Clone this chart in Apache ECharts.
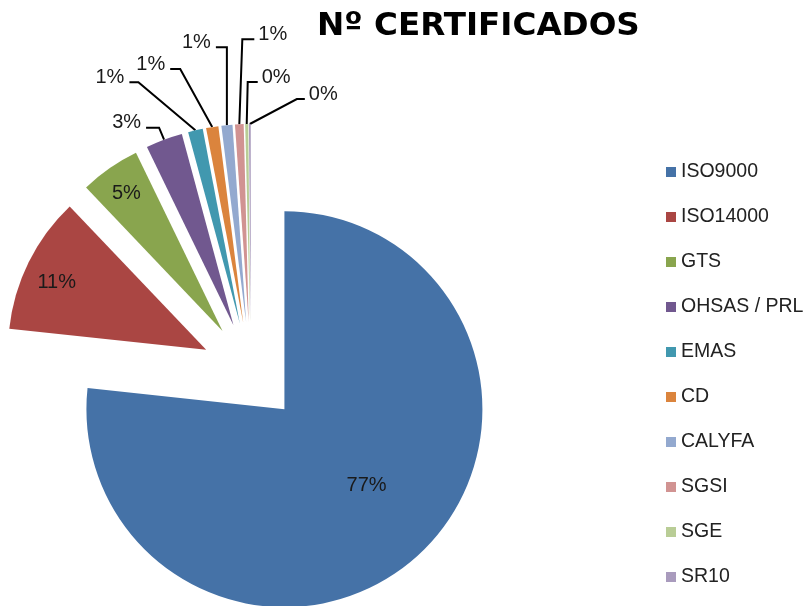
<!DOCTYPE html>
<html>
<head>
<meta charset="utf-8">
<title>Nº CERTIFICADOS</title>
<script src="https://cdn.jsdelivr.net/npm/echarts@6/dist/echarts.min.js"></script>
<style>
  html, body { margin: 0; padding: 0; background: #fff; }
  #chart { width: 806px; height: 606px; }
</style>
</head>
<body>
<div id="chart"></div>
<script>
// Nº certificados por norma
const categories = ['ISO9000', 'ISO14000', 'GTS', 'OHSAS / PRL', 'EMAS', 'CD', 'CALYFA', 'SGSI', 'SGE', 'SR10'];
const certificados = [1534, 224, 98, 60, 24, 20, 18, 14, 5, 3];
const colors = ['#4572A7', '#AA4643', '#89A54E', '#71588F', '#4198AF', '#DB843D', '#93A9CF', '#D19392', '#B9CD96', '#A99BBD'];

const FONT = 'Liberation Sans';

// labels drawn inside the slice, with a small nudge (px)
const insideNudge = { 'ISO9000': [14, 0], 'ISO14000': [-58, -22], 'GTS': [-38, -54] };
// leader lines for the thin slices: first segment [dx, dy], then horizontal run
const leaders = {
    'OHSAS / PRL': [-5, -12, -13],
    'EMAS': [-57, -48, -9],
    'CD': [-32, -58, -10],
    'CALYFA': [0, -78, -11],
    'SGSI': [3, -85, 12],
    'SGE': [1, -42, 10],
    'SR10': [47, -25, 8]
};

function placeLabel(params) {
    const name = categories[params.dataIndex];
    if (insideNudge[name]) {
        return { dx: insideNudge[name][0], dy: insideNudge[name][1] };
    }
    const lead = leaders[name];
    const pts = params.labelLinePoints;
    if (!lead || !pts) return {};
    const p0 = pts[0];
    const p1 = [p0[0] + lead[0], p0[1] + lead[1]];
    const p2 = [p1[0] + lead[2], p1[1]];
    const toRight = lead[2] > 0;
    const anchorX = p2[0] + (toRight ? 4 : -5);
    const defX = pts[2][0] - 5;
    return {
        labelLinePoints: [p0, p1, p2],
        dx: anchorX - defX,
        dy: p2[1] - 5 - pts[2][1],
        align: toRight ? 'left' : 'right'
    };
}

const chart = echarts.init(document.getElementById('chart'));

chart.setOption({
    backgroundColor: '#fff',
    animation: false,
    title: {
        text: 'Nº CERTIFICADOS',
        left: 317, top: 11, padding: 0,
        textStyle: { fontFamily: 'DejaVu Sans', fontWeight: 'bold', fontSize: 32.6, lineHeight: 32, color: '#000' }
    },
    legend: {
        orient: 'vertical', left: 666, top: 162, padding: 0,
        itemWidth: 10, itemHeight: 10, itemGap: 25, icon: 'rect',
        selectedMode: false,
        textStyle: { fontFamily: FONT, fontSize: 19.5, lineHeight: 20, color: '#222' },
        data: categories
    },
    series: [{
        type: 'pie',
        center: [251, 372],
        radius: 198,
        startAngle: 90,
        clockwise: true,
        selectedMode: 'multiple',
        selectedOffset: 50,
        avoidLabelOverlap: false,
        emphasis: { disabled: true },
        label: {
            show: true, position: 'outside',
            formatter: p => Math.round(p.percent) + '%',
            fontFamily: FONT, fontSize: 20, color: '#1a1a1a',
            distanceToLabelLine: 5
        },
        labelLine: { show: true, length: 20, length2: 10, lineStyle: { color: '#000', width: 2 } },
        labelLayout: placeLabel,
        data: categories.map((name, i) => {
            const item = { name, value: certificados[i], selected: true, itemStyle: { color: colors[i] } };
            if (insideNudge[name]) {
                item.label = { position: 'inside' };
                item.labelLine = { show: false };
            }
            return item;
        })
    }]
});
</script>
</body>
</html>
